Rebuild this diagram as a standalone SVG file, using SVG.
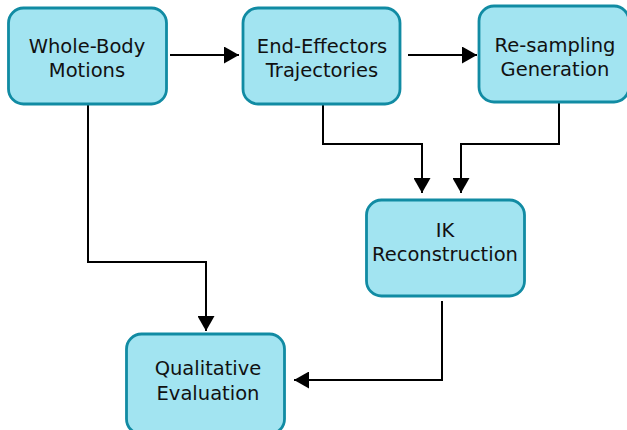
<svg xmlns="http://www.w3.org/2000/svg" width="627" height="430" viewBox="0 0 627 430">
<defs>
<style>
.box{fill:#a2e4f1;stroke:#118ba3;stroke-width:2.8}
.t{font-family:"DejaVu Sans",sans-serif;font-size:19.5px;fill:#111;text-anchor:middle}
.c{fill:none;stroke:#000;stroke-width:2}
</style>
<marker id="ah" viewBox="0 0 15 17" refX="15" refY="8.5" markerWidth="15" markerHeight="17" markerUnits="userSpaceOnUse" orient="auto">
<path d="M0,0 L15,8.5 L0,17 Z" fill="#000"/>
</marker>
</defs>
<rect width="627" height="430" fill="#fff"/>
<g id="connectors">
<path class="c" d="M170,55 H239" marker-end="url(#ah)"/>
<path class="c" d="M408,55 H477" marker-end="url(#ah)"/>
<path class="c" d="M323,105 V144 H422 V193" marker-end="url(#ah)"/>
<path class="c" d="M559,103 V144 H461 V193" marker-end="url(#ah)"/>
<path class="c" d="M88,105 V262 H206 V331" marker-end="url(#ah)"/>
<path class="c" d="M442,301 V380 H294" marker-end="url(#ah)"/>
</g>
<g id="whole-body">
<rect class="box" x="8.5" y="8" width="158" height="96" rx="15"/>
<text class="t" x="87" y="53">Whole-Body</text>
<text class="t" x="87" y="77">Motions</text>
</g>
<g id="end-effectors">
<rect class="box" x="243" y="8" width="157" height="96" rx="15"/>
<text class="t" x="322" y="53">End-Effectors</text>
<text class="t" x="322" y="77">Trajectories</text>
</g>
<g id="resampling">
<rect class="box" x="479" y="6" width="150" height="96" rx="15"/>
<text class="t" x="555" y="52">Re-sampling</text>
<text class="t" x="555" y="76">Generation</text>
</g>
<g id="ik">
<rect class="box" x="366.5" y="200" width="158" height="96" rx="15"/>
<text class="t" x="445" y="237">IK</text>
<text class="t" x="445" y="261">Reconstruction</text>
</g>
<g id="qualitative">
<rect class="box" x="126.5" y="334" width="158" height="100" rx="15"/>
<text class="t" x="208" y="375">Qualitative</text>
<text class="t" x="208" y="400">Evaluation</text>
</g>
</svg>
